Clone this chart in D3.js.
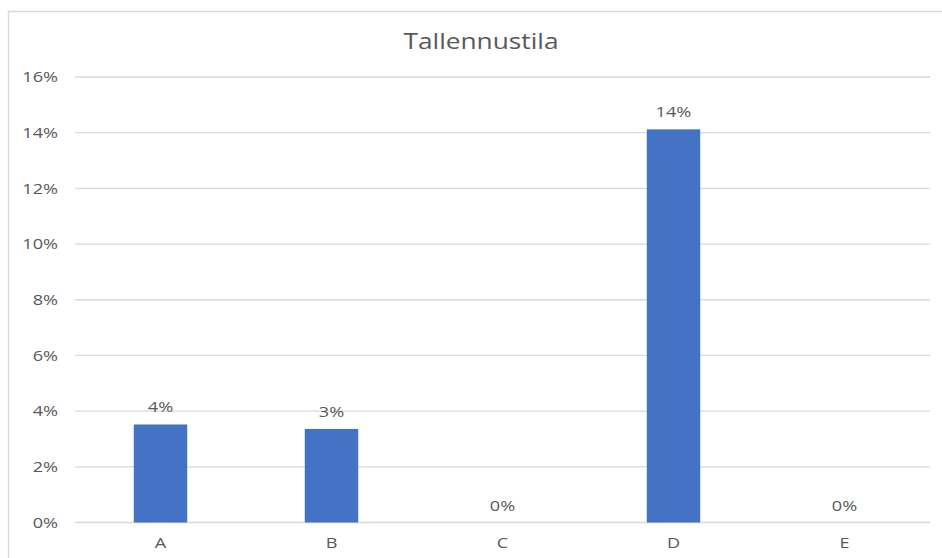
<!DOCTYPE html>
<html>
<head>
<meta charset="utf-8">
<script src="https://cdn.jsdelivr.net/npm/d3@7"></script>
<style>
  html, body { margin: 0; padding: 0; background: #fff; }
  svg { display: block; }
  text { font-family: "Open Sans", "Noto Sans", sans-serif; fill: #595959; }
</style>
</head>
<body>
<svg id="chart" width="942" height="558"></svg>
<script>
// Storage share per category
const categories = ["A", "B", "C", "D", "E"];
const shares = [0.0352, 0.0336, 0, 0.1412, 0];
const yTicks = [0, 0.02, 0.04, 0.06, 0.08, 0.10, 0.12, 0.14, 0.16];
const chartTitle = "Tallennustila";

const svg = d3.select("#chart");
const W = 942, H = 558;
const plot = { left: 75, right: 930, top: 77, bottom: 522.5 };
const widen = 1.25;   // horizontal stretch applied to all text
const labelSize = "14.5px";

// Stretch each text horizontally by the given factor
function stretch(sel, f) {
  sel.each(function () {
    const len = this.getComputedTextLength();
    d3.select(this)
      .attr("textLength", len * f)
      .attr("lengthAdjust", "spacingAndGlyphs");
  });
}

// Chart frame (runs off the right and bottom edges)
svg.append("rect")
  .attr("x", 8.5).attr("y", 11.5)
  .attr("width", W + 10).attr("height", H + 10)
  .attr("fill", "#fff")
  .attr("stroke", "#d9d9d9").attr("stroke-width", 1.5);

const x = d3.scaleBand()
  .domain(categories)
  .range([plot.left, plot.right])
  .paddingInner(0.6875)
  .paddingOuter(0.34375);

const y = d3.scaleLinear()
  .domain([0, 0.16])
  .range([plot.bottom, plot.top]);

const pct = d3.format(".0%");

// Horizontal gridlines
svg.append("g")
  .selectAll("line")
  .data(yTicks)
  .join("line")
  .attr("x1", plot.left).attr("x2", plot.right)
  .attr("y1", d => y(d)).attr("y2", d => y(d))
  .attr("stroke", "#d9d9d9").attr("stroke-width", 1.3);

// Y axis labels
const yAxis = d3.axisLeft(y).tickValues(yTicks).tickFormat(pct).tickSize(0).tickPadding(0);
svg.append("g")
  .attr("transform", `translate(58,0)`)
  .call(yAxis)
  .call(g => g.select(".domain").remove())
  .call(g => g.selectAll("text")
    .style("font-family", '"Open Sans", "Noto Sans", sans-serif')
    .style("font-size", labelSize)
    .attr("fill", "#595959")
    .call(stretch, widen));

// X axis labels
const xAxis = d3.axisBottom(x).tickSize(0).tickPadding(0);
svg.append("g")
  .attr("transform", `translate(0,${plot.bottom})`)
  .call(xAxis)
  .call(g => g.select(".domain").remove())
  .call(g => g.selectAll("text")
    .attr("dy", null)
    .attr("y", 25.5)
    .style("font-family", '"Open Sans", "Noto Sans", sans-serif')
    .style("font-size", labelSize)
    .attr("fill", "#595959")
    .call(stretch, widen));

// Bars
svg.append("g")
  .selectAll("rect")
  .data(categories)
  .join("rect")
  .attr("x", d => x(d))
  .attr("width", x.bandwidth())
  .attr("y", (d, i) => y(shares[i]))
  .attr("height", (d, i) => plot.bottom - y(shares[i]))
  .attr("fill", "#4472c4");

// Value labels
svg.append("g")
  .selectAll("text")
  .data(categories)
  .join("text")
  .attr("x", d => x(d) + x.bandwidth() / 2)
  .attr("y", (d, i) => y(shares[i]) - 12)
  .attr("text-anchor", "middle")
  .style("font-size", labelSize)
  .text((d, i) => pct(shares[i]))
  .call(stretch, widen);

// Title
svg.append("text")
  .attr("x", 481).attr("y", 48.5)
  .attr("text-anchor", "middle")
  .style("font-size", "21px")
  .text(chartTitle)
  .call(stretch, widen);
</script>
</body>
</html>
